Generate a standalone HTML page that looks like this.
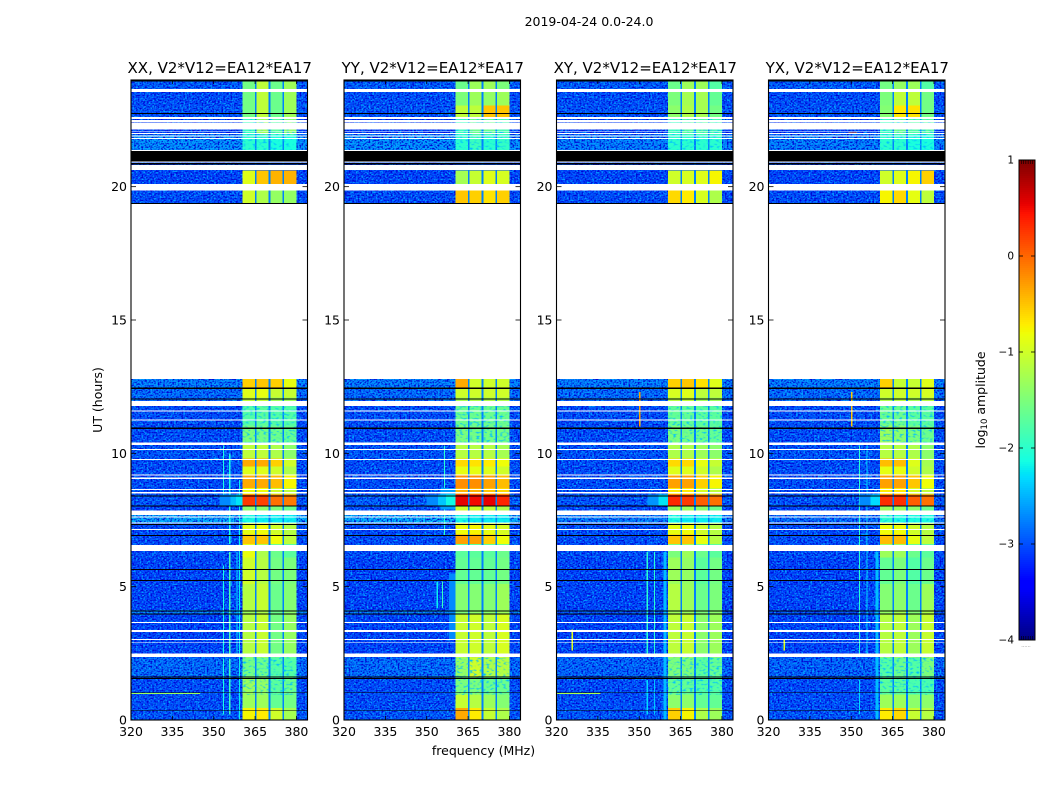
<!DOCTYPE html>
<html>
<head>
<meta charset="utf-8">
<title>2019-04-24 0.0-24.0</title>
<style>
html,body{margin:0;padding:0;background:#fff;width:1050px;height:800px;overflow:hidden}
svg{display:block}
text{font-family:"DejaVu Sans","Liberation Sans",sans-serif;fill:#000}
</style>
</head>
<body>
<svg id="chart" xmlns="http://www.w3.org/2000/svg" width="1050" height="800" viewBox="0 0 1050 800">
  <defs>
    <filter id="grain-light" x="0" y="0" width="100%" height="100%" color-interpolation-filters="sRGB">
      <feTurbulence type="fractalNoise" baseFrequency="0.55 0.62" numOctaves="1" seed="4"/>
      <feColorMatrix type="matrix" values="0 0 0 0 0  0 0 0 0 0.66  0 0 0 0 1  3.8 0 0 0 -1.7"/>
    </filter>
    <filter id="grain-dark" x="0" y="0" width="100%" height="100%" color-interpolation-filters="sRGB">
      <feTurbulence type="fractalNoise" baseFrequency="0.55 0.62" numOctaves="1" seed="11"/>
      <feColorMatrix type="matrix" values="0 0 0 0 0  0 0 0 0 0  0 0 0 0 0.82  3.6 0 0 0 -1.6"/>
    </filter>
    <filter id="grain-band" x="0" y="0" width="100%" height="100%" color-interpolation-filters="sRGB">
      <feTurbulence type="fractalNoise" baseFrequency="0.3 0.5" numOctaves="1" seed="7"/>
      <feColorMatrix type="matrix" values="0 0 0 0 0  0 0 0 0 0.75  0 0 0 0 1  3.6 0 0 0 -1.85"/>
    </filter>
  </defs>
</svg>
<script>
// ---- chart data (UT hours, MHz, log10 amplitude) ----
const panelTitles = ['XX, V2*V12=EA12*EA17','YY, V2*V12=EA12*EA17','XY, V2*V12=EA12*EA17','YX, V2*V12=EA12*EA17'];
const freqTicks = [320,335,350,365,380];
const timeTicks = [0,5,10,15,20];
const colorbarTicks = [1,0,-1,-2,-3,-4];
const subbandStarts = [360.5,365.5,370.5,375.5];
const subbandEnds = [364.9,369.9,374.9,380];
const gapLevel = -2.75;
const rowEdges = [0,0.45,0.95,1.6,2.35,3.95,4.12,5.1,6.1,6.6,6.95,7.4,7.85,8.05,8.45,8.7,9.2,9.5,9.8,10.35,11.05,11.9,12.1,12.45,12.8,19.35,19.85,20.1,20.6,20.95,21.35,21.95,22.55,23.05,23.55,24];
// time ranges where the subbands look mottled
const noisyRows = [[0.95,2.35],[7.4,7.85],[10.35,11.9],[21.35,22.55]];
// per row: background, subband 1-4
const xxLevels = [
[-2.95,-0.75,-0.7,-1.0,-1.25],[-3.0,-1.3,-1.3,-1.65,-1.55],[-3.0,-1.3,-1.35,-1.7,-1.6],[-2.8,-1.55,-1.6,-1.75,-1.75],
[-3.05,-1.15,-1.05,-1.55,-1.35],[-2.65,-1.3,-1.2,-1.6,-1.4],[-3.05,-1.15,-1.05,-1.6,-1.45],[-3.05,-1.0,-1.15,-1.55,-1.5],
[-3.0,-0.85,-1.2,-1.6,-1.7],[-3.0,-0.5,-0.5,-0.8,-1.1],[-3.0,-0.85,-0.8,-1.0,-1.15],[-2.45,-2.1,-2.2,-2.2,-2.2],
[-3.05,-1.4,-1.4,-1.5,-1.6],[-2.95,0.25,0.2,-0.05,-0.1],[-3.0,-0.8,-0.8,-1.0,-1.1],[-3.0,-0.35,-0.35,-0.45,-0.75],
[-3.0,-0.9,-0.9,-1.0,-1.2],[-3.0,-0.35,-0.35,-0.55,-1.0],[-2.95,-1.1,-1.1,-1.2,-1.4],[-3.0,-1.5,-1.55,-1.6,-1.65],
[-3.0,-1.75,-1.7,-1.75,-1.75],[-2.85,-1.1,-1.1,-1.3,-1.3],[-2.8,-0.9,-0.85,-1.05,-1.05],[-2.7,-0.55,-0.5,-0.55,-0.85],
[-3.0,-3.0,-3.0,-3.0,-3.0],[-3.0,-1.0,-1.2,-1.35,-1.35],[-3.0,-3.0,-3.0,-3.0,-3.0],[-3.05,-0.9,-0.5,-0.4,-0.4],
[-3.0,-3.0,-3.0,-3.0,-3.0],[-3.0,-3.0,-3.0,-3.0,-3.0],[-2.6,-2.0,-2.0,-2.1,-2.1],[-3.1,-1.9,-1.3,-1.7,-1.4],
[-2.95,-1.55,-1.1,-1.6,-1.3],[-3.0,-1.55,-1.1,-1.6,-1.3],[-2.9,-1.55,-1.1,-1.6,-1.3]];
const yyLevels = [
[-2.95,-0.35,-0.7,-1.05,-1.2],[-3.0,-1.05,-1.15,-1.3,-1.45],[-3.0,-1.5,-1.5,-1.6,-1.6],[-2.8,-1.35,-1.0,-1.2,-1.15],
[-3.05,-1.05,-1.0,-1.1,-0.95],[-2.7,-1.5,-1.4,-1.4,-1.3],[-3.05,-1.45,-1.45,-1.45,-1.3],[-3.05,-1.65,-1.65,-1.65,-1.55],
[-3.0,-1.7,-1.7,-1.7,-1.6],[-3.0,-0.3,-0.3,-0.55,-0.8],[-3.0,-0.8,-0.75,-0.85,-0.95],[-2.4,-2.1,-2.2,-2.2,-2.2],
[-3.0,-1.0,-1.0,-1.1,-1.2],[-2.9,0.55,0.5,0.55,0.35],[-3.0,-0.4,-0.4,-0.5,-0.6],[-3.0,-0.2,-0.2,-0.3,-0.45],
[-3.0,-0.85,-0.85,-0.9,-1.0],[-3.0,-0.6,-0.65,-0.7,-0.8],[-2.95,-1.15,-1.15,-1.15,-1.25],[-3.0,-1.5,-1.55,-1.55,-1.55],
[-3.0,-1.6,-1.6,-1.6,-1.6],[-2.85,-1.25,-1.2,-1.2,-1.2],[-2.8,-1.0,-1.0,-1.0,-1.0],[-2.7,-0.35,-1.0,-1.0,-1.0],
[-3.0,-3.0,-3.0,-3.0,-3.0],[-3.0,-0.5,-0.55,-0.65,-0.55],[-3.0,-3.0,-3.0,-3.0,-3.0],[-3.05,-1.25,-1.05,-0.9,-0.95],
[-3.0,-3.0,-3.0,-3.0,-3.0],[-3.0,-3.0,-3.0,-3.0,-3.0],[-2.6,-2.0,-1.9,-2.0,-1.95],[-3.1,-1.9,-1.6,-1.6,-1.8],
[-2.95,-1.1,-1.1,-0.5,-0.5],[-3.0,-1.5,-1.3,-1.35,-1.3],[-2.9,-1.6,-1.3,-1.3,-1.5]];
const xyLevels = [
[-2.95,-0.55,-0.75,-1.2,-1.3],[-3.0,-1.4,-1.4,-1.65,-1.65],[-3.0,-1.65,-1.65,-1.75,-1.75],[-2.85,-1.5,-1.5,-1.7,-1.65],
[-3.05,-1.1,-1.05,-1.4,-1.3],[-2.95,-1.3,-1.3,-1.5,-1.4],[-3.05,-1.15,-1.3,-1.6,-1.5],[-3.05,-1.3,-1.35,-1.7,-1.55],
[-3.0,-1.5,-1.3,-1.6,-1.7],[-3.0,-0.5,-0.5,-0.85,-1.15],[-3.0,-0.85,-0.8,-1.0,-1.15],[-2.7,-2.1,-2.2,-2.2,-2.2],
[-3.05,-1.3,-1.3,-1.4,-1.6],[-2.95,0.35,0.25,0.05,-0.05],[-3.0,-0.7,-0.7,-0.95,-1.1],[-3.0,-0.3,-0.3,-0.55,-0.75],
[-3.0,-0.9,-0.9,-1.0,-1.2],[-3.0,-0.6,-0.6,-0.85,-1.05],[-2.95,-1.2,-1.2,-1.3,-1.4],[-3.0,-1.5,-1.55,-1.6,-1.65],
[-3.0,-1.65,-1.65,-1.7,-1.7],[-2.85,-1.15,-1.1,-1.3,-1.3],[-2.8,-0.95,-0.9,-1.1,-1.1],[-2.7,-0.55,-0.5,-0.65,-0.9],
[-3.0,-3.0,-3.0,-3.0,-3.0],[-3.0,-0.6,-0.7,-0.95,-1.2],[-3.0,-3.0,-3.0,-3.0,-3.0],[-3.05,-1.0,-0.95,-0.9,-0.75],
[-3.0,-3.0,-3.0,-3.0,-3.0],[-3.0,-3.0,-3.0,-3.0,-3.0],[-2.7,-2.0,-2.0,-2.0,-2.0],[-3.1,-1.9,-1.7,-1.7,-1.8],
[-2.95,-1.4,-1.2,-1.25,-1.55],[-3.0,-1.5,-1.25,-1.25,-1.65],[-2.9,-1.6,-1.3,-1.3,-1.75]];
const yxLevels = [
[-2.95,-0.7,-0.6,-1.05,-1.15],[-3.0,-1.3,-1.3,-1.4,-1.4],[-3.0,-1.7,-1.7,-1.8,-1.8],[-2.85,-1.75,-1.6,-1.75,-1.5],
[-3.05,-1.15,-1.1,-1.3,-1.05],[-2.95,-1.35,-1.25,-1.45,-1.2],[-3.05,-1.45,-1.4,-1.6,-1.3],[-3.05,-1.65,-1.5,-1.75,-1.6],
[-3.0,-1.3,-1.3,-1.6,-1.7],[-3.0,-0.45,-0.45,-0.85,-1.1],[-3.0,-0.8,-0.8,-1.0,-1.15],[-2.8,-2.0,-2.1,-2.1,-2.1],
[-3.05,-1.3,-1.3,-1.4,-1.6],[-2.95,0.3,0.3,0.05,-0.05],[-3.0,-0.7,-0.7,-0.95,-1.1],[-3.0,-0.3,-0.3,-0.5,-0.8],
[-3.0,-0.85,-0.85,-1.0,-1.2],[-3.0,-0.45,-0.45,-0.9,-1.25],[-2.95,-1.15,-1.15,-1.2,-1.4],[-3.0,-1.3,-1.4,-1.5,-1.6],
[-3.0,-1.6,-1.6,-1.7,-1.7],[-2.85,-1.2,-1.15,-1.25,-1.15],[-2.8,-1.0,-1.0,-1.0,-0.95],[-2.7,-0.55,-1.05,-1.05,-0.9],
[-3.0,-3.0,-3.0,-3.0,-3.0],[-3.0,-0.75,-0.6,-0.85,-1.1],[-3.0,-3.0,-3.0,-3.0,-3.0],[-3.05,-1.0,-0.9,-0.75,-0.55],
[-3.0,-3.0,-3.0,-3.0,-3.0],[-3.0,-3.0,-3.0,-3.0,-3.0],[-2.7,-2.0,-2.0,-2.1,-2.1],[-3.1,-1.9,-1.6,-1.75,-1.7],
[-2.95,-1.45,-0.7,-0.65,-1.55],[-3.0,-1.5,-1.1,-1.1,-1.55],[-2.9,-1.55,-1.35,-1.3,-1.75]];
// channel / spot features: f0, f1, ut0, ut1, level
const xxFeatures = [[353.4,353.8,0.2,2.3,-2.1],[353.4,353.8,2.5,5.8,-2.1],[353.4,353.8,8.0,10.3,-2.1],[355.6,356,0.2,2.3,-1.9],[355.6,356,2.5,6.3,-1.8],[355.6,356,6.6,10.0,-2.1],[358.3,358.7,2.5,6.3,-2.3],[359.2,359.6,0,9.0,-2.2],[352,356,8.05,8.45,-2.7],[356,358,8.05,8.45,-2.45],[358,360.5,8.05,8.45,-2.25],[320,345,0.98,1.02,-1.3]];
const yyFeatures = [[356.3,356.7,6.9,10.3,-2.0],[353.6,354,4.2,5.2,-2.2],[355.5,355.9,4.2,5.2,-1.9],[350,354,8.05,8.45,-2.7],[354,357,8.05,8.45,-2.4],[357,360.5,8.05,8.45,-2.15],[355,360.5,7.9,8.05,-2.6],[355,360.5,8.45,8.7,-2.6],[358,360.5,3.0,5.5,-2.7]];
const xyFeatures = [[352.7,353.1,2.5,6.3,-2.0],[352.7,353.1,0.2,1.5,-2.3],[355.3,355.7,2.5,6.3,-2.0],[355.3,355.7,0.2,1.5,-2.4],[358.8,359.8,0,6.3,-2.45],[350,350.4,11.0,12.3,-0.3],[320,336,0.98,1.02,-1.2],[353,357,8.05,8.45,-2.65],[357,360.5,8.05,8.45,-2.25],[325.5,326,2.6,3.4,-0.9]];
const yxFeatures = [[352.8,353.2,2.5,10.3,-2.0],[355.5,355.9,2.5,10.3,-2.3],[352.8,353.2,0.2,1.5,-2.3],[358.8,359.8,0,6.3,-2.45],[350,350.4,11.0,12.3,-0.5],[353,357,8.05,8.45,-2.7],[357,360.5,8.05,8.45,-2.3],[325.5,326,2.6,3.0,-0.9],[349,352,21.98,22.03,-0.1]];
// flagged (blank) and zero-amplitude (black) time ranges
const whiteBands = [[23.55,23.67],[22.54,22.62],[22.42,22.5],[22.15,22.4],[22.06,22.09],[21.98,22.01],[21.89,21.92],[21.79,21.82],[21.33,21.38],[20.9,20.94],[20.62,20.81],[19.85,20.1],[12.79,19.35],[11.78,11.97],[11.57,11.6],[11.23,11.27],[10.32,10.4],[10.12,10.16],[9.75,9.79],[9.17,9.21],[9.04,9.09],[8.63,8.66],[8.5,8.55],[7.68,7.85],[7.59,7.63],[7.36,7.4],[7.13,7.16],[6.34,6.56],[3.64,3.67],[3.3,3.37],[3.0,3.04],[2.9,2.93],[2.37,2.5]];
const blackBands = [[23.94,23.98],[22.72,22.76],[20.94,21.33],[20.83,20.88],[19.35,19.39],[12.42,12.46],[12.01,12.05],[10.92,10.96],[8.38,8.42],[8.01,8.05],[7.31,7.35],[6.9,6.94],[5.63,5.66],[5.22,5.25],[4.07,4.11],[3.96,3.99],[1.59,1.63],[1.54,1.57],[1.03,1.05],[0.35,0.38]];

const panelLevels = [xxLevels,yyLevels,xyLevels,yxLevels];
const panelFeatures = [xxFeatures,yyFeatures,xyFeatures,yxFeatures];

// ---- layout ----
const NS = 'http://www.w3.org/2000/svg';
const svg = document.getElementById('chart');
const plotLefts = [131,344,556.5,768.5];
const plotWidth = 176.5, plotTop = 80, plotBottom = 720;
const fMin = 320, fMax = 384, utMax = 24;
const cbLeft = 1019, cbRight = 1035, cbTop = 160, cbBottom = 640;

function xScale(p, f){ return plotLefts[p] + (f - fMin) / (fMax - fMin) * plotWidth; }
function yScale(ut){ return plotBottom - ut / utMax * (plotBottom - plotTop); }
function cbScale(v){ return cbBottom - (v + 4) / 5 * (cbBottom - cbTop); }
function clip01(v){ return Math.max(0, Math.min(1, v)); }
function jet(level){
  const t = clip01((level + 4) / 5);
  const r = t < 0.89 ? clip01((t - 0.35) / 0.31) : 1 - (t - 0.89) / 0.11 * 0.5;
  const g = t < 0.64 ? clip01((t - 0.125) / 0.25) : clip01((0.91 - t) / 0.27);
  const b = t < 0.11 ? 0.5 + t / 0.11 * 0.5 : clip01((0.65 - t) / 0.31);
  return 'rgb(' + Math.round(r*255) + ',' + Math.round(g*255) + ',' + Math.round(b*255) + ')';
}
function shape(parent, tag, attrs, name){
  const el = document.createElementNS(NS, tag);
  for (const k in attrs) el.setAttribute(k, attrs[k]);
  
  
  parent.appendChild(el);
  return el;
}
function cell(parent, x0, x1, y0, y1, fill, name){
  return shape(parent, 'rect', {x:x0, y:Math.min(y0,y1), width:x1-x0, height:Math.abs(y1-y0), fill:fill, 'shape-rendering':'crispEdges'}, name);
}
function label(parent, x, y, str, size, anchor, name, rot){
  const attrs = {x:x, y:y, 'font-size':size, 'text-anchor':anchor};
  if (rot) attrs.transform = 'rotate(' + rot + ' ' + x + ' ' + y + ')';
  const el = shape(parent, 'text', attrs, name);
  el.textContent = str;
  return el;
}

label(svg, 589, 26, '2019-04-24 0.0-24.0', 12.5, 'middle', 'figure-title');
label(svg, 483.5, 755, 'frequency (MHz)', 12.5, 'middle', 'x-axis-title');
label(svg, 102, 400, 'UT (hours)', 12.5, 'middle', 'y-axis-title', -90);

panelTitles.forEach(function(title, p){
  const g = shape(svg, 'g', {}, 'panel-' + title.slice(0,2).toLowerCase());
  const L = plotLefts[p], R = L + plotWidth;
  const x = function(f){ return xScale(p, f); };
  cell(g, L, R, plotTop, plotBottom, '#fff', 'plot-background');
  // background level per time row
  panelLevels[p].forEach(function(levels, r){
    cell(g, L, R, yScale(rowEdges[r+1]), yScale(rowEdges[r]), jet(levels[0]), 'background-cell');
  });
  // visibility grain over the background only
  shape(g, 'rect', {x:L, y:plotTop, width:plotWidth, height:plotBottom-plotTop, filter:'url(#grain-light)'}, 'grain-light');
  shape(g, 'rect', {x:L, y:plotTop, width:plotWidth, height:plotBottom-plotTop, filter:'url(#grain-dark)'}, 'grain-dark');
  // spectral cells: one per time row and subband, with the channel gaps between them
  panelLevels[p].forEach(function(levels, r){
    const y0 = yScale(rowEdges[r+1]), y1 = yScale(rowEdges[r]);
    subbandStarts.forEach(function(s, b){
      cell(g, x(s), x(subbandEnds[b]), y0, y1, jet(levels[b+1]), 'subband-cell');
      if (b < subbandStarts.length - 1) {
        cell(g, x(subbandEnds[b]), x(subbandStarts[b+1]), y0, y1, jet(gapLevel), 'channel-gap-cell');
      }
    });
  });
  noisyRows.forEach(function(n){
    shape(g, 'rect', {x:x(subbandStarts[0]), y:yScale(n[1]), width:x(subbandEnds[3])-x(subbandStarts[0]), height:yScale(n[0])-yScale(n[1]), filter:'url(#grain-band)'}, 'subband-mottling');
  });
  panelFeatures[p].forEach(function(f){
    cell(g, x(f[0]), x(f[1]), yScale(f[3]), yScale(f[2]), jet(f[4]), 'rfi-feature');
  });
  whiteBands.forEach(function(b){
    cell(g, L, R, yScale(b[1]), yScale(b[0]), '#fff', 'flagged-band');
  });
  blackBands.forEach(function(b){
    cell(g, L, R, yScale(b[1]), yScale(b[0]), '#000', 'zero-band');
  });
  shape(g, 'rect', {x:L, y:plotTop, width:plotWidth, height:plotBottom-plotTop, fill:'none', stroke:'#000', 'stroke-width':1.1}, 'plot-frame');
  freqTicks.forEach(function(t){
    const px = x(t);
    shape(g, 'line', {x1:px, x2:px, y1:plotBottom, y2:plotBottom-4, stroke:'#000', 'stroke-width':0.8}, 'x-tick');
    shape(g, 'line', {x1:px, x2:px, y1:plotTop, y2:plotTop+4, stroke:'#000', 'stroke-width':0.8}, 'x-tick-top');
    label(g, px, plotBottom+16, String(t), 12.5, 'middle', 'x-tick-label');
  });
  timeTicks.forEach(function(t){
    const py = yScale(t);
    shape(g, 'line', {x1:L, x2:L+5, y1:py, y2:py, stroke:'#000', 'stroke-width':0.8}, 'y-tick');
    shape(g, 'line', {x1:R-5, x2:R, y1:py, y2:py, stroke:'#000', 'stroke-width':0.8}, 'y-tick-right');
    label(g, L-4, py+4.5, String(t), 12.5, 'end', 'y-tick-label');
  });
  label(g, L + plotWidth/2 + 0.5, 73, title, 15, 'middle', 'panel-title');
});

// colorbar
const cb = shape(svg, 'g', {}, 'colorbar');
for (let px = cbTop; px < cbBottom; px += 2){
  const v = 1 - (px - cbTop) / (cbBottom - cbTop) * 5;
  cell(cb, cbLeft, cbRight, px, px + 2, jet(v), 'colorbar-step');
}
shape(cb, 'rect', {x:cbLeft, y:cbTop, width:cbRight-cbLeft, height:cbBottom-cbTop, fill:'none', stroke:'#000', 'stroke-width':1}, 'colorbar-frame');
colorbarTicks.forEach(function(t){
  const py = cbScale(t);
  shape(cb, 'line', {x1:cbLeft, x2:cbLeft+4, y1:py, y2:py, stroke:'#000', 'stroke-width':0.8}, 'colorbar-tick');
  shape(cb, 'line', {x1:cbRight-4, x2:cbRight, y1:py, y2:py, stroke:'#000', 'stroke-width':0.8}, 'colorbar-tick-right');
  label(cb, cbLeft-5, py+3.5, String(t).replace('-', '\u2212'), 10.5, 'end', 'colorbar-tick-label');
});
for (let i = 1; i < 7; i++){
  const px = cbLeft + i * (cbRight - cbLeft) / 7;
  shape(cb, 'line', {x1:px, x2:px, y1:cbTop, y2:cbTop+4, stroke:'#000', 'stroke-width':0.6}, 'colorbar-minor-tick');
  shape(cb, 'line', {x1:px, x2:px, y1:cbBottom-4, y2:cbBottom, stroke:'#000', 'stroke-width':0.6}, 'colorbar-minor-tick');
}
const dots = label(cb, 1026, 647, '......', 5, 'middle', 'colorbar-offset-dots');
dots.setAttribute('style', 'fill:#777');
const cbTitle = label(cb, 985, 400, 'log', 12.5, 'middle', 'colorbar-title', -90);
const sub = document.createElementNS(NS, 'tspan');
sub.setAttribute('font-size', '8.5');
sub.setAttribute('dy', '2');


sub.textContent = '10';
cbTitle.appendChild(sub);
const rest = document.createElementNS(NS, 'tspan');
rest.setAttribute('dy', '-2');


rest.textContent = ' amplitude';
cbTitle.appendChild(rest);
</script>
</body>
</html>
